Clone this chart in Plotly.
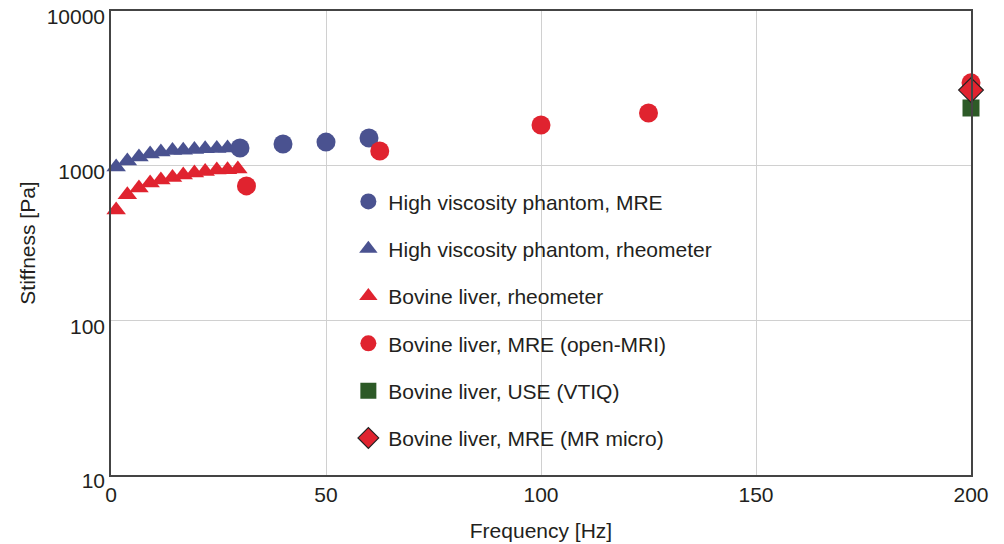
import plotly.graph_objects as go

# ---- data ----
rheo_freq = [1.2, 3.8, 6.5, 9.1, 11.6, 14.3, 16.8, 19.4, 21.9, 24.6, 27.1, 29.5]
phantom_rheo = [982, 1071, 1137, 1191, 1227, 1254, 1260, 1273, 1285, 1290, 1300, 1305]
liver_rheo = [517, 648, 718, 773, 809, 839, 871, 898, 917, 938, 940, 952]

phantom_mre_freq = [30, 40, 50, 60]
phantom_mre = [1300, 1380, 1420, 1510]

liver_mre_freq = [31.5, 62.5, 100, 125, 200]
liver_mre = [740, 1245, 1830, 2190, 3430]

liver_use_freq = [200]
liver_use = [2360]

liver_micro_freq = [200]
liver_micro = [3080]

x_ticks = [0, 50, 100, 150, 200]
y_ticks = [10, 100, 1000, 10000]

BLUE = "#4a5290"
RED = "#e0232f"
GREEN = "#2d5a27"

fig = go.Figure()

def add(name, x, y, symbol, color, size, rank, line_color=None, line_width=0):
    fig.add_trace(go.Scatter(
        x=x, y=y, mode="markers", name=name, legendgroup=name, legendrank=rank,
        cliponaxis=False,
        marker=dict(symbol=symbol, color=color, size=size,
                    line=dict(color=line_color or color, width=line_width)),
    ))

add("High viscosity phantom, rheometer", rheo_freq, phantom_rheo, "triangle-up", BLUE, 17, 2)
add("Bovine liver, rheometer", rheo_freq, liver_rheo, "triangle-up", RED, 17, 3)
add("High viscosity phantom, MRE", phantom_mre_freq, phantom_mre, "circle", BLUE, 19, 1)
add("Bovine liver, MRE (open-MRI)", liver_mre_freq, liver_mre, "circle", RED, 19, 4)
add("Bovine liver, USE (VTIQ)", liver_use_freq, liver_use, "square", GREEN, 17, 5)
add("Bovine liver, MRE (MR micro)", liver_micro_freq, liver_micro, "diamond", RED, 19, 6,
    line_color="#222222", line_width=1.2)

FONT = "Liberation Sans, Arial, Helvetica, sans-serif"

fig.update_layout(
    width=1004, height=544,
    margin=dict(l=111, r=33, t=11, b=69, autoexpand=False),
    plot_bgcolor="white", paper_bgcolor="white",
    font=dict(family=FONT, size=21, color="#231f20"),
    showlegend=True,
    legend=dict(
        x=0.276, y=0.633, xanchor="left", yanchor="top",
        bgcolor="rgba(0,0,0,0)", borderwidth=0,
        font=dict(family=FONT, size=21, color="#231f20"),
        tracegroupgap=17, traceorder="grouped",
        itemwidth=30,
    ),
    xaxis=dict(
        range=[0, 200], tickvals=x_ticks, ticktext=[str(v) for v in x_ticks],
        showgrid=True, gridcolor="#d0d0d0", gridwidth=1.2,
        showline=True, linecolor="#444444", linewidth=1.5, mirror=True,
        ticks="", zeroline=False, automargin=False,
        title=dict(text="Frequency [Hz]", font=dict(size=21), standoff=18),
        tickfont=dict(size=21),
    ),
    yaxis=dict(
        type="log", range=[1, 4], tickvals=y_ticks, ticktext=[str(v) for v in y_ticks],
        showgrid=True, gridcolor="#d0d0d0", gridwidth=1.2,
        showline=True, linecolor="#444444", linewidth=1.5, mirror=True,
        ticks="", zeroline=False, automargin=False,
        ticklabelshift=6, ticklabeloverflow="allow",
        title=dict(text="Stiffness [Pa]", font=dict(size=21), standoff=5),
        tickfont=dict(size=21),
    ),
)

fig.write_html("out.html", config={"displayModeBar": False},
               post_script="document.body.style.margin='0';")
